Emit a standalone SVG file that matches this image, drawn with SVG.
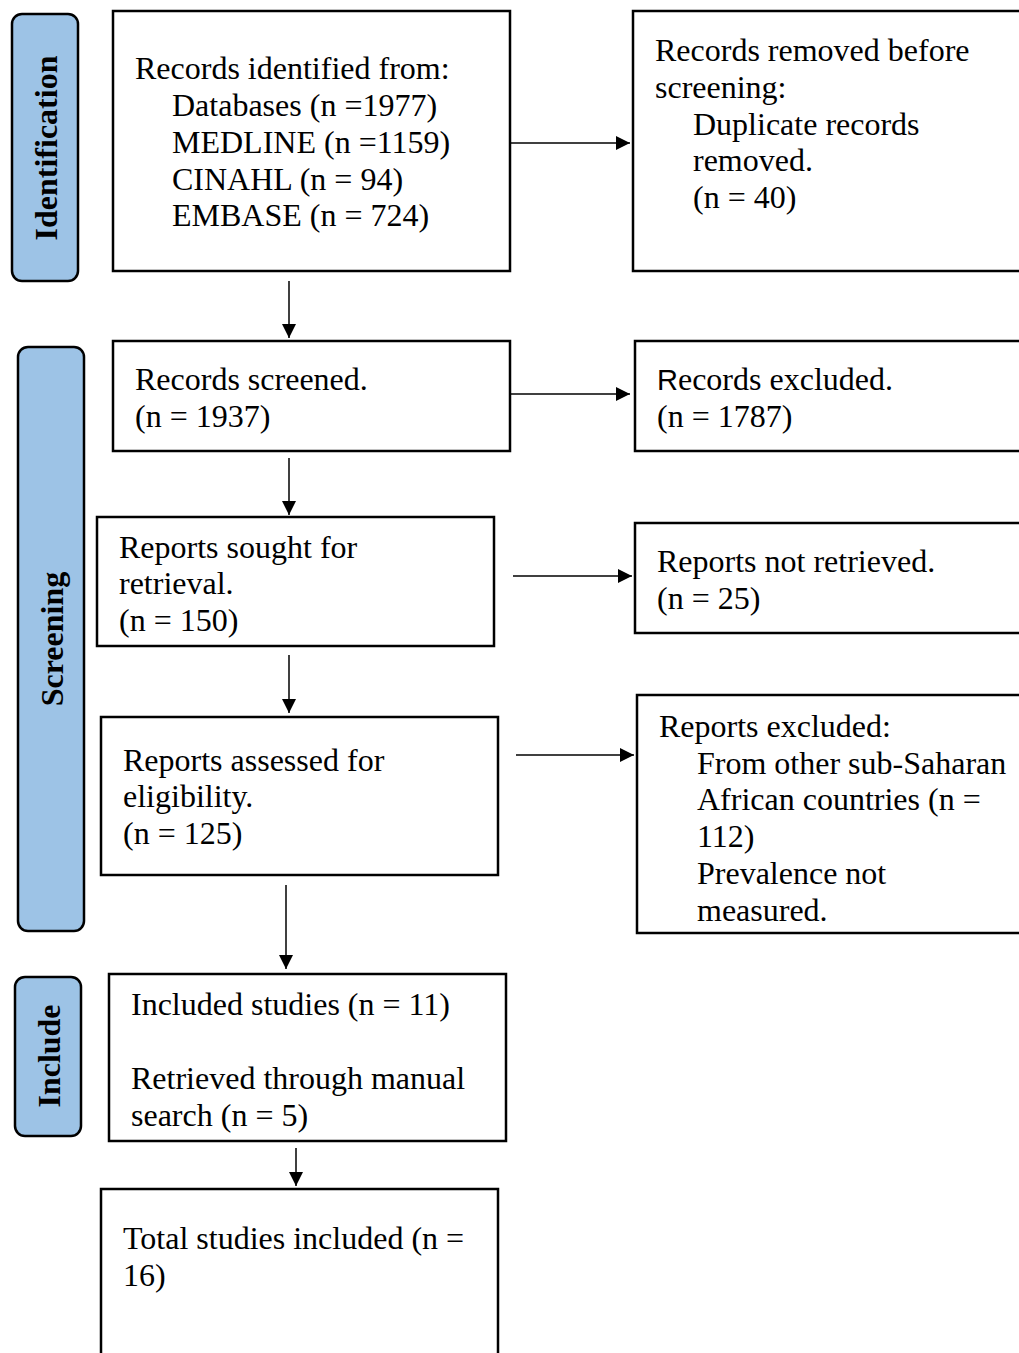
<svg xmlns="http://www.w3.org/2000/svg" width="1019" height="1353" viewBox="0 0 1019 1353">
<defs>
<style>
.box{fill:#fff;stroke:#000;stroke-width:2.5}
.lab{fill:#9dc3e6;stroke:#000;stroke-width:2.5}
text{font-family:"Liberation Serif","Times New Roman",serif;font-size:32px;fill:#000}
.side{font-weight:bold;text-anchor:middle}
.con{stroke:#000;stroke-width:1.5;fill:none;marker-end:url(#ah)}
</style>
<marker id="ah" viewBox="0 0 14 14" refX="14" refY="7" markerWidth="14" markerHeight="14" orient="auto" markerUnits="userSpaceOnUse">
<path d="M0,0 L14,7 L0,14 z" fill="#000"/>
</marker>
</defs>
<rect width="1019" height="1353" fill="#fff"/>

<g id="label-identification">
<rect class="lab" x="12" y="14" width="66" height="267" rx="10"/>
<text class="side" transform="translate(57,148) rotate(-90)">Identification</text>
</g>
<g id="label-screening">
<rect class="lab" x="18" y="347" width="66" height="584" rx="10"/>
<text class="side" transform="translate(63,639) rotate(-90)">Screening</text>
</g>
<g id="label-include">
<rect class="lab" x="15" y="977" width="66" height="159" rx="10"/>
<text class="side" transform="translate(60,1056) rotate(-90)">Include</text>
</g>

<g id="connectors">
<line class="con" x1="511" y1="143" x2="630" y2="143"/>
<line class="con" x1="289" y1="281" x2="289" y2="338"/>
<line class="con" x1="511" y1="394" x2="630" y2="394"/>
<line class="con" x1="289" y1="458" x2="289" y2="515"/>
<line class="con" x1="513" y1="576" x2="632" y2="576"/>
<line class="con" x1="289" y1="655" x2="289" y2="713"/>
<line class="con" x1="516" y1="755" x2="634" y2="755"/>
<line class="con" x1="286" y1="885" x2="286" y2="969"/>
<line class="con" x1="296" y1="1148" x2="296" y2="1186"/>
</g>

<g id="node-identified">
<rect class="box" x="113" y="11" width="397" height="260"/>
<text x="135" y="79">Records identified from:</text>
<text x="172" y="116">Databases (n =1977)</text>
<text x="172" y="153">MEDLINE (n =1159)</text>
<text x="172" y="190">CINAHL (n = 94)</text>
<text x="172" y="226">EMBASE (n = 724)</text>
</g>
<g id="node-removed">
<rect class="box" x="633" y="11" width="400" height="260"/>
<text x="655" y="61">Records removed before</text>
<text x="655" y="98">screening:</text>
<text x="693" y="135">Duplicate records</text>
<text x="693" y="171">removed.</text>
<text x="693" y="208">(n = 40)</text>
</g>
<g id="node-screened">
<rect class="box" x="113" y="341" width="397" height="110"/>
<text x="135" y="390">Records screened.</text>
<text x="135" y="427">(n = 1937)</text>
</g>
<g id="node-excluded">
<rect class="box" x="635" y="341" width="400" height="110"/>
<text x="657" y="390"><tspan style="font-family:'Liberation Sans',Arial,sans-serif;font-size:29px">R</tspan>ecords excluded.</text>
<text x="657" y="427">(n = 1787)</text>
</g>
<g id="node-sought">
<rect class="box" x="97" y="517" width="397" height="129"/>
<text x="119" y="558">Reports sought for</text>
<text x="119" y="594">retrieval.</text>
<text x="119" y="631">(n = 150)</text>
</g>
<g id="node-not-retrieved">
<rect class="box" x="635" y="523" width="400" height="110"/>
<text x="657" y="572">Reports not retrieved.</text>
<text x="657" y="609">(n = 25)</text>
</g>
<g id="node-assessed">
<rect class="box" x="101" y="717" width="397" height="158"/>
<text x="123" y="771">Reports assessed for</text>
<text x="123" y="807">eligibility.</text>
<text x="123" y="844">(n = 125)</text>
</g>
<g id="node-reports-excluded">
<rect class="box" x="637" y="695" width="400" height="238"/>
<text x="659" y="737">Reports excluded:</text>
<text x="697" y="774">From other sub-Saharan</text>
<text x="697" y="810">African countries (n =</text>
<text x="697" y="847">112)</text>
<text x="697" y="884">Prevalence not</text>
<text x="697" y="921">measured.</text>
</g>
<g id="node-included">
<rect class="box" x="109" y="974" width="397" height="167"/>
<text x="131" y="1015">Included studies (n = 11)</text>
<text x="131" y="1089">Retrieved through manual</text>
<text x="131" y="1126">search (n = 5)</text>
</g>
<g id="node-total">
<rect class="box" x="101" y="1189" width="397" height="180"/>
<text x="123" y="1249">Total studies included (n =</text>
<text x="123" y="1286">16)</text>
</g>
</svg>
